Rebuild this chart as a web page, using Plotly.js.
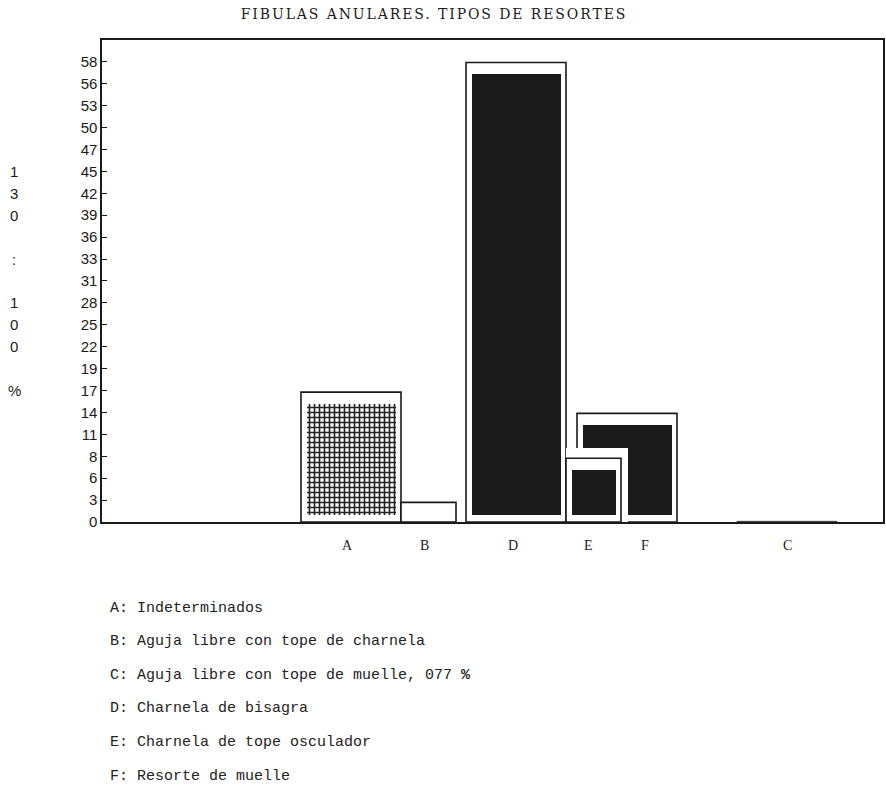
<!DOCTYPE html>
<html>
<head>
<meta charset="utf-8">
<script src="https://cdn.plot.ly/plotly-3.0.1.min.js"></script>
<style>
  html, body { margin: 0; padding: 0; background: #fff; }
  #chart { width: 886px; height: 785px; }
  .gtitle { letter-spacing: 1.9px; }
</style>
</head>
<body>
<div id="chart"></div>
<script>
// ---------------- DATA ----------------
const categories = ['A', 'B', 'D', 'E', 'F', 'C'];
const percentages = [16.5, 2.5, 58.4, 8.1, 13.8, 0.08];
const yTickLabels = ['0','3','6','8','11','14','17','19','22','25','28','31','33','36','39','42','45','47','50','53','56','58'];
const yAxisNote = '130 : 100 %';
const legendLines = [
  'A: Indeterminados',
  'B: Aguja libre con tope de charnela',
  'C: Aguja libre con tope de muelle, 077 <b>%</b>',
  'D: Charnela de bisagra',
  'E: Charnela de tope osculador',
  'F: Resorte de muelle'
];
const chartTitle = 'FIBULAS ANULARES. TIPOS DE RESORTES';

// ---------------- LAYOUT / STYLE (pixel geometry) ----------------
const W = 886, H = 785;
const M = { l: 102, r: 3, t: 40, b: 263 };
const plotW = W - M.l - M.r, plotH = H - M.t - M.b;
const tickStep = 2.785;
const yMax = 61.25;
const pxPerUnit = plotH / yMax;
const toX = px => px - M.l;               // x axis in pixel-like units
const u = px => px / pxPerUnit;           // pixel length -> y units

const barGeom = {   // left edge px, width px
  A: [301, 100], B: [401, 55], D: [466, 100], E: [566, 55], F: [577, 100], C: [737, 100]
};
const labelPx = { A: 347, B: 424, D: 513, E: 588, F: 645, C: 787 };
const fillStyle = { A: 'pattern', B: 'none', D: 'solid', E: 'solid', F: 'solid', C: 'none' };
const halo = { E: { right: 7, top: 10 } };
const drawOrder = ['A', 'B', 'D', 'F', 'C', 'E'];
const inset = { left: 6, right: 5, top: 12, bottom: 7 };
const INK = '#1a1a1a';

const traces = [];
drawOrder.forEach(cat => {
  const i = categories.indexOf(cat);
  const v = percentages[i];
  const [lx, w] = barGeom[cat];
  if (halo[cat]) {
    const h = halo[cat];
    traces.push({
      type: 'bar', x: [toX(lx) + (w + h.right) / 2], y: [v + u(h.top)], width: [w + h.right], base: [0],
      marker: { color: '#ffffff', line: { width: 0 } }, hoverinfo: 'skip', showlegend: false
    });
  }
  traces.push({
    type: 'bar', x: [toX(lx) + w / 2], y: [v], width: [w], base: [0], name: cat,
    marker: { color: '#ffffff', line: { color: INK, width: cat === 'C' ? 0.8 : 1.6 } }, hoverinfo: 'skip', showlegend: false
  });
  if (fillStyle[cat] !== 'none') {
    const iw = w - inset.left - inset.right;
    const marker = fillStyle[cat] === 'pattern'
      ? { color: '#ffffff', line: { width: 0 },
          pattern: { shape: '+', size: 5, solidity: 0.55, fgcolor: '#222', bgcolor: '#ffffff', fillmode: 'replace' } }
      : { color: INK, line: { width: 0 } };
    traces.push({
      type: 'bar', x: [toX(lx) + inset.left + iw / 2], y: [v - u(inset.top) - u(inset.bottom)],
      width: [iw], base: [u(inset.bottom)], marker: marker, hoverinfo: 'skip', showlegend: false
    });
  }
});

const annotations = [];
// category labels under the bars
categories.forEach(cat => {
  annotations.push({
    x: toX(labelPx[cat]), y: 0, xref: 'x', yref: 'y', yshift: -23,
    text: cat, showarrow: false, xanchor: 'center', yanchor: 'middle',
    font: { family: 'Liberation Serif, serif', size: 14, color: INK }
  });
});
// vertical "130 : 100 %" note, one character per tick row starting at row 16
[...yAxisNote].forEach((ch, k) => {
  if (ch === ' ') return;
  annotations.push({
    x: (14 - M.l) / plotW, y: (16 - k) * tickStep, xref: 'paper', yref: 'y',
    text: ch, showarrow: false, xanchor: 'center', yanchor: 'middle',
    font: { family: 'Liberation Sans, sans-serif', size: 15, color: INK }
  });
});
// key lines
legendLines.forEach((t, k) => {
  const py = 608 + 33.6 * k;
  annotations.push({
    x: (108 - M.l) / plotW, y: (M.t + plotH - py) / plotH, xref: 'paper', yref: 'paper',
    text: t, showarrow: false, xanchor: 'left', yanchor: 'middle', align: 'left',
    font: { family: 'Liberation Mono, monospace', size: 15, color: '#222' }
  });
});

const layout = {
  width: W, height: H,
  margin: M,
  paper_bgcolor: '#ffffff', plot_bgcolor: '#ffffff',
  barmode: 'overlay', bargap: 0,
  showlegend: false,
  title: {
    text: chartTitle, x: 434 / W, xref: 'container', xanchor: 'center',
    y: 1 - 14 / H, yref: 'container', yanchor: 'middle',
    font: { family: 'DejaVu Serif, serif', size: 14, color: INK }
  },
  xaxis: {
    range: [0, plotW], showgrid: false, zeroline: false, showticklabels: false, ticks: '',
    showline: true, mirror: true, linecolor: INK, linewidth: 1.6, fixedrange: true
  },
  yaxis: {
    range: [0, yMax], showgrid: false, zeroline: false,
    tickmode: 'array', tickvals: yTickLabels.map((_, i) => i * tickStep), ticktext: yTickLabels,
    ticks: 'inside', ticklen: 5, tickwidth: 1, tickcolor: INK,
    tickfont: { family: 'Liberation Sans, sans-serif', size: 15, color: INK },
    showline: true, mirror: true, linecolor: INK, linewidth: 1.6, fixedrange: true
  },
  annotations: annotations
};

Plotly.newPlot('chart', traces, layout, { staticPlot: true, displayModeBar: false });
</script>
</body>
</html>
